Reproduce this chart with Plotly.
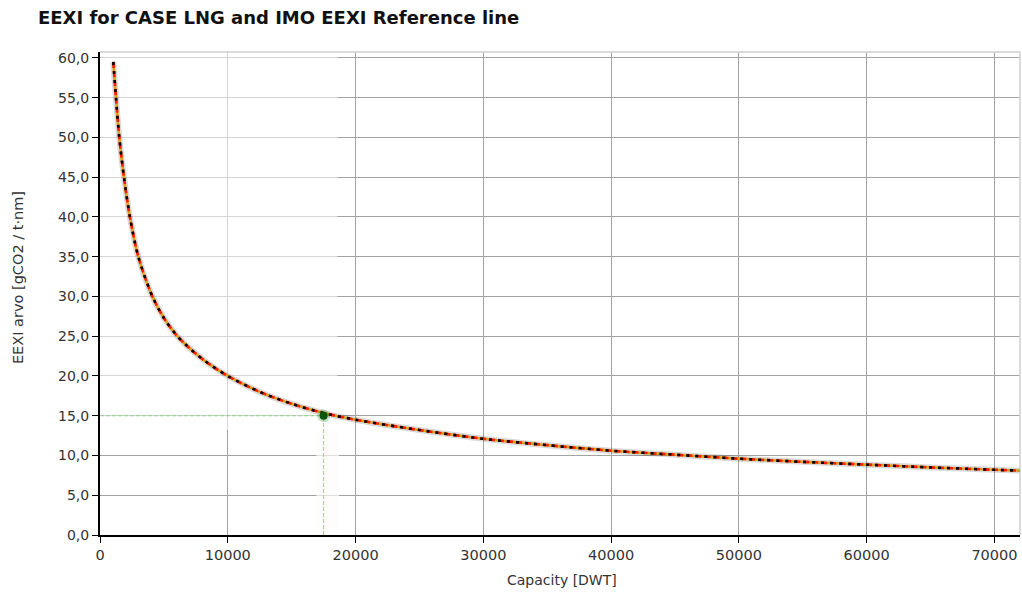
import plotly.graph_objects as go

# IMO EEXI reference line (capacity in DWT -> attained EEXI in gCO2 / t·nm)
ref_dwt = [1040, 1250, 1510, 1875, 2340, 3000, 4100, 5000, 5900, 6800, 8200, 10000,
           12500, 15000, 17600, 20000, 25000, 30000, 35000, 40000, 45000,
           50000, 55000, 60000, 65000, 70000, 72000]
ref_eexi = [59.5, 55.0, 50.0, 45.0, 40.0, 35.0, 30.0, 27.3, 25.3, 23.8, 21.9, 20.0,
            18.0, 16.5, 15.3, 14.5, 13.2, 12.1, 11.3, 10.6, 10.1,
            9.6, 9.2, 8.85, 8.5, 8.2, 8.1]

# CASE LNG vessel
case_dwt = [17500]
case_eexi = [15.0]

x_tickvals = [0, 10000, 20000, 30000, 40000, 50000, 60000, 70000]
x_ticktext = ["0", "10000", "20000", "30000", "40000", "50000", "60000", "70000"]
y_tickvals = [0, 5, 10, 15, 20, 25, 30, 35, 40, 45, 50, 55, 60]

X_MAX = 72000
Y_MAX = 60.75
FONT = "DejaVu Sans"

fig = go.Figure()

# soft shadow under the reference line
fig.add_trace(go.Scatter(x=ref_dwt, y=ref_eexi, mode="lines",
                         line=dict(color="rgba(0,0,0,0.15)", width=6, shape="spline", smoothing=0.8),
                         hoverinfo="skip", showlegend=False))
# reference line: yellow base, red dashes, black dashes on top
for color, dash in [("#d9a21b", "solid"), ("#ff1a00", "6px,3px"), ("#000000", "3px,6px")]:
    fig.add_trace(go.Scatter(x=ref_dwt, y=ref_eexi, mode="lines",
                             line=dict(color=color, width=2.6, shape="spline", smoothing=0.8, dash=dash),
                             hoverinfo="skip", showlegend=False))

# crosshair from the CASE LNG point to the axes
fig.add_trace(go.Scatter(x=[0, case_dwt[0]], y=[case_eexi[0], case_eexi[0]], mode="lines",
                         line=dict(color="#8fd18f", width=1, dash="4px,2px"),
                         hoverinfo="skip", showlegend=False))
fig.add_trace(go.Scatter(x=[case_dwt[0], case_dwt[0]], y=[0, case_eexi[0]], mode="lines",
                         line=dict(color="#8fd18f", width=1, dash="4px,2px"),
                         hoverinfo="skip", showlegend=False))

# CASE LNG point with a glow
fig.add_trace(go.Scatter(x=case_dwt, y=case_eexi, mode="markers",
                         marker=dict(size=13, color="rgba(0,110,0,0.22)", line=dict(width=0)),
                         hoverinfo="skip", showlegend=False))
fig.add_trace(go.Scatter(x=case_dwt, y=case_eexi, mode="markers",
                         marker=dict(size=8, color="#06560c", line=dict(width=0)),
                         hoverinfo="skip", showlegend=False))

# faded highlight panels over the grid
fig.add_shape(type="rect", xref="x", yref="y", x0=0, x1=18570, y0=13.2, y1=Y_MAX,
              line=dict(width=0), fillcolor="rgba(255,255,255,0.55)", layer="between")
fig.add_shape(type="rect", xref="x", yref="y", x0=16950, x1=18700, y0=0, y1=13.2,
              line=dict(width=0), fillcolor="rgba(253,252,250,0.7)", layer="between")

# light frame on top and right
fig.add_shape(type="line", xref="paper", yref="paper", x0=0, x1=1, y0=1, y1=1,
              line=dict(color="#cfcfcf", width=1.5), layer="above")
fig.add_shape(type="line", xref="paper", yref="paper", x0=1, x1=1, y0=0, y1=1,
              line=dict(color="#cfcfcf", width=1.5), layer="above")

# axis titles
fig.add_annotation(text="Capacity [DWT]", xref="paper", yref="paper", x=0.5, y=0,
                   xanchor="center", yanchor="middle", yshift=-45, xshift=2, showarrow=False,
                   font=dict(family=FONT, size=14, color="#333333"))
fig.add_annotation(text="EEXI arvo [gCO2 / t·nm]", xref="paper", yref="paper", x=0, y=0.532,
                   xanchor="center", yanchor="middle", xshift=-82, textangle=-90, showarrow=False,
                   font=dict(family=FONT, size=14.5, color="#333333"))

fig.update_layout(
    width=1022, height=592,
    margin=dict(l=100, r=2, t=52, b=57),
    paper_bgcolor="white", plot_bgcolor="white",
    separators=", ",
    showlegend=False,
    hovermode=False,
    title=dict(text="<b>EEXI for CASE LNG and IMO EEXI Reference line</b>",
               font=dict(family=FONT, size=18, color="#111111"),
               x=38 / 1022, xanchor="left", xref="container",
               y=1 - 18 / 592, yanchor="middle", yref="container"),
    font=dict(family=FONT, size=14, color="#333333"),
)

fig.update_xaxes(
    range=[0, X_MAX], tickmode="array", tickvals=x_tickvals, ticktext=x_ticktext,
    showgrid=True, gridcolor="#a3a3a3", gridwidth=1.3,
    showline=True, linecolor="#000000", linewidth=2,
    ticks="outside", ticklen=6, tickcolor="#000000", tickwidth=1,
    zeroline=False,
    tickfont=dict(family=FONT, size=14.5, color="#333333"),
)
fig.update_yaxes(
    range=[0, Y_MAX], tickmode="array", tickvals=y_tickvals, tickformat=".1f",
    showgrid=True, gridcolor="#a3a3a3", gridwidth=1.3,
    showline=True, linecolor="#000000", linewidth=2,
    ticks="outside", ticklen=6, tickcolor="#000000", tickwidth=1,
    zeroline=False,
    tickfont=dict(family=FONT, size=14, color="#333333"),
)

fig.write_html("out.html")
